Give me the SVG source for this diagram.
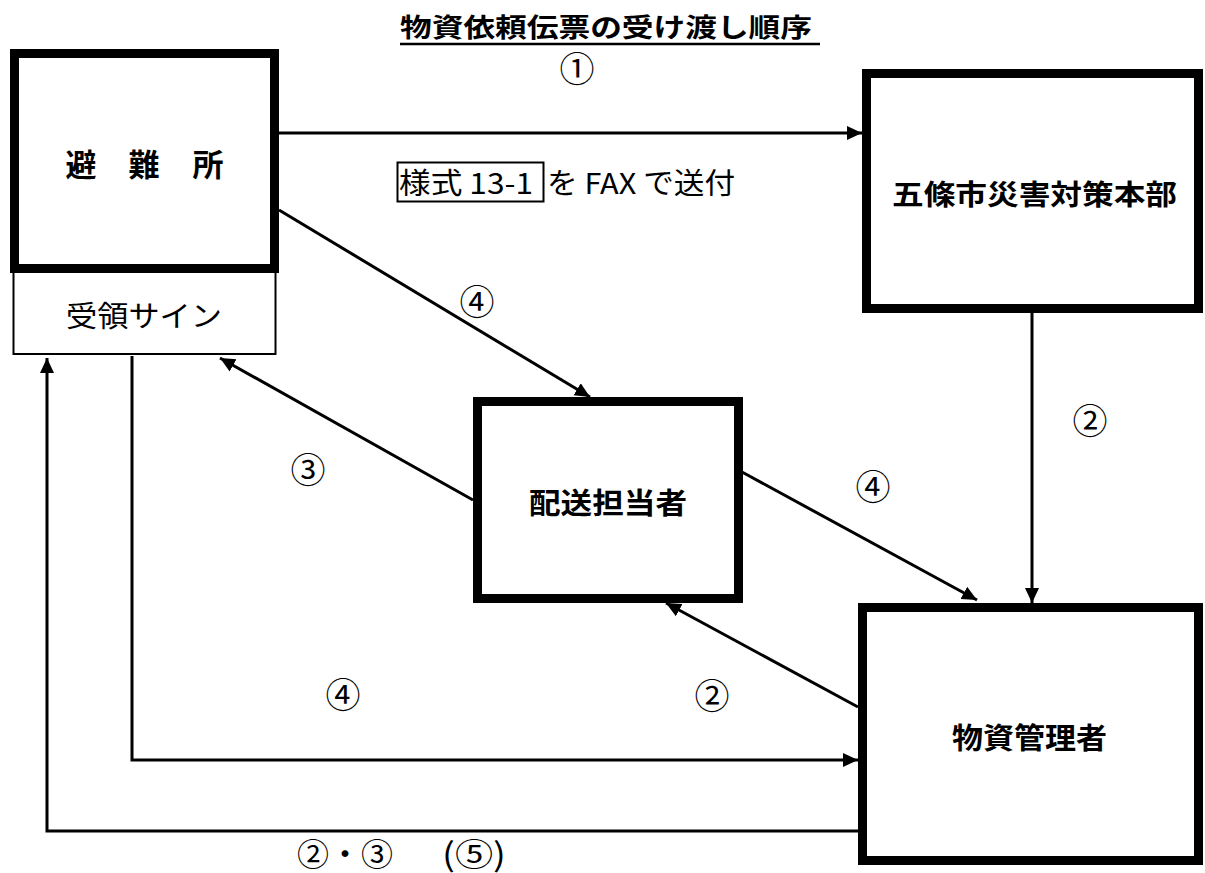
<svg xmlns="http://www.w3.org/2000/svg" width="1205" height="873" viewBox="0 0 1205 873">
<style>
text{font-family:"Noto Sans CJK JP","Noto Sans CJK SC",sans-serif;fill:#000;dominant-baseline:central}
.b{font-weight:bold}
.n{font-size:35px;text-anchor:middle}
.c{font-size:31px;text-anchor:middle}
.box{fill:#fff;stroke:#000;stroke-width:9}
.ln{fill:none;stroke:#000;stroke-width:3}
</style>
<defs>
<marker id="ah" markerUnits="userSpaceOnUse" markerWidth="16" markerHeight="16" refX="15" refY="8" orient="auto">
<path d="M0,1 L15,8 L0,15 Z" fill="#000"/>
</marker>
</defs>
<rect width="1205" height="873" fill="#fff"/>
<g id="title">
<text class="b" x="400" y="25" font-size="26" textLength="412" lengthAdjust="spacingAndGlyphs">物資依頼伝票の受け渡し順序</text>
<line x1="400" y1="44" x2="820" y2="44" stroke="#000" stroke-width="2.5"/>
</g>
<g id="connectors">
<line class="ln" x1="279" y1="133" x2="862" y2="133" marker-end="url(#ah)"/>
<line class="ln" x1="1032" y1="313" x2="1032" y2="603" marker-end="url(#ah)"/>
<line class="ln" x1="279" y1="210" x2="590" y2="397" marker-end="url(#ah)"/>
<line class="ln" x1="473" y1="500" x2="220" y2="358" marker-end="url(#ah)"/>
<line class="ln" x1="742" y1="472" x2="977" y2="600" marker-end="url(#ah)"/>
<line class="ln" x1="858" y1="707" x2="666" y2="603" marker-end="url(#ah)"/>
<polyline class="ln" points="132,356 132,760 858,760" marker-end="url(#ah)"/>
<polyline class="ln" points="858,831 47,831 47,358" marker-end="url(#ah)"/>
</g>
<g id="jyuryo">
<rect x="13.5" y="268" width="262" height="86" fill="#fff" stroke="#000" stroke-width="2"/>
<text x="66" y="314" font-size="29" textLength="156" lengthAdjust="spacingAndGlyphs">受領サイン</text>
</g>
<g id="hinanjo">
<rect class="box" x="14.5" y="53.5" width="260" height="215"/>
<text class="b c" y="162" x="81">避</text>
<text class="b c" y="162" x="144">難</text>
<text class="b c" y="162" x="208">所</text>
</g>
<g id="honbu">
<rect class="box" x="866.5" y="73.5" width="332" height="235"/>
<text class="b" x="892" y="193" font-size="28" textLength="285" lengthAdjust="spacingAndGlyphs">五條市災害対策本部</text>
</g>
<g id="haiso">
<rect class="box" x="477.5" y="401.5" width="261" height="197"/>
<text class="b" x="529" y="501" font-size="29" textLength="158" lengthAdjust="spacingAndGlyphs">配送担当者</text>
</g>
<g id="kanri">
<rect class="box" x="862.5" y="607.5" width="336" height="253"/>
<text class="b" x="952" y="736" font-size="29" textLength="155" lengthAdjust="spacingAndGlyphs">物資管理者</text>
</g>
<g id="labels">
<rect x="397.5" y="162.5" width="146" height="39" fill="none" stroke="#000" stroke-width="2"/>
<text x="399" y="181" font-size="29" textLength="134" lengthAdjust="spacingAndGlyphs">様式 13-1</text>
<text x="547" y="181" font-size="29" textLength="188" lengthAdjust="spacingAndGlyphs">を FAX で送付</text>
<text class="n" x="577" y="66">①</text>
<text class="n" x="477" y="299">④</text>
<text class="n" x="308" y="467">③</text>
<text class="n" x="1090" y="418">②</text>
<text class="n" x="873" y="484">④</text>
<text class="n" x="343" y="692">④</text>
<text class="n" x="712" y="693">②</text>
<text x="297" y="852" font-size="32" textLength="96" lengthAdjust="spacingAndGlyphs">②・③</text>
<text x="442" y="852" font-size="32" textLength="64" lengthAdjust="spacingAndGlyphs">(⑤)</text>
</g>
</svg>
